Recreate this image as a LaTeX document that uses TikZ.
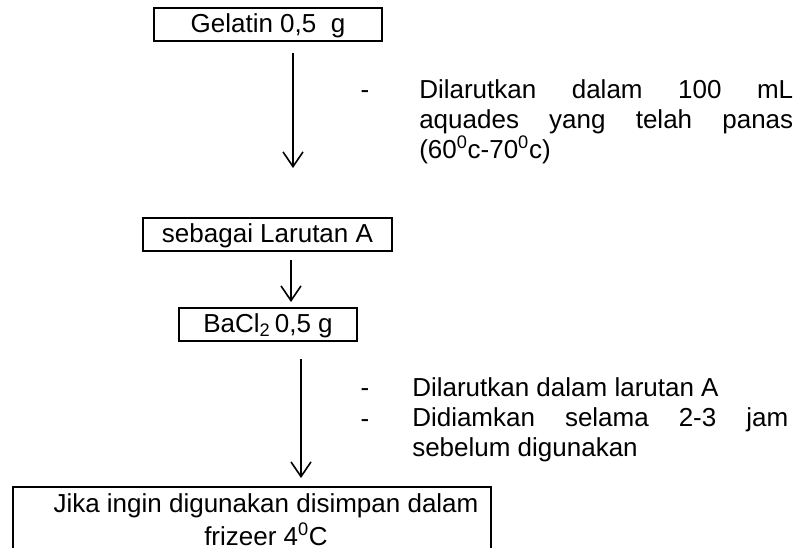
\documentclass[tikz,border=0pt]{standalone}
\usepackage{fontspec}
\setmainfont{Liberation Sans}
\usetikzlibrary{arrows.meta}
\setlength{\parindent}{0pt}
\hbadness=10000

\begin{document}
\begin{tikzpicture}[x=0.75pt,y=0.75pt,yscale=-1,xscale=1,
    kotak/.style={draw,line width=1.6pt,inner sep=0pt,minimum height=24.75pt,
      text height=15pt,text depth=3pt,font=\fontsize{19.5}{22.5}\selectfont},
    teks/.style={inner sep=0pt,font=\fontsize{19.5}{22.5}\selectfont},
    panah/.style={line width=1.2pt,-{Straight Barb[length=11pt,width=15pt]}}]
        \useasboundingbox (0,0) rectangle (804,547);
        \clip (0,0) rectangle (804,547);

        %Shape: Rectangle
        \node[kotak,minimum width=171pt] (gelatin) at (268,24.5) {Gelatin 0,5~~g};
        %Shape: Rectangle
        \node[kotak,minimum width=186.75pt] (larutanA) at (267.5,234.5) {sebagai Larutan A};
        %Shape: Rectangle
        \node[kotak,minimum width=133.5pt] (bacl) at (268,324.5) {BaCl\textsubscript{2}\,0,5 g};
        %Shape: Rectangle (open at the bottom of the page)
        \node[draw,line width=1.6pt,inner sep=0pt,minimum width=358.5pt,minimum height=75pt,anchor=north west] (simpan) at (12,486) {};

        %Straight Lines
        \coordinate (p1a) at (293,53);
        \coordinate (p1b) at (293,168);
        \draw[panah] (p1a) -- (p1b);
        %Straight Lines
        \coordinate (p2a) at (291,260);
        \coordinate (p2b) at (291,302);
        \draw[panah] (p2a) -- (p2b);
        %Straight Lines
        \coordinate (p3a) at (301,359);
        \coordinate (p3b) at (301,478);
        \draw[panah] (p3a) -- (p3b);

        % Text Node
        \node[teks,anchor=base] (strip1) at (365,98) {-};
        % Text Node
        \node[teks,anchor=north west,text width=280.5pt,align=justify] (ket1) at (419,77)
          {\strut Dilarutkan dalam 100 mL\linebreak aquades yang telah panas\linebreak (60\textsuperscript{0}c-70\textsuperscript{0}c)};
        % Text Node
        \node[teks,anchor=base] (strip2) at (365,396) {-};
        % Text Node
        \node[teks,anchor=base] (strip3) at (365,427) {-};
        % Text Node
        \node[teks,anchor=north west,text width=282pt,align=justify] (ket2) at (412,375)
          {\strut Dilarutkan dalam larutan A\\Didiamkan selama 2-3 jam\linebreak sebelum digunakan};
        % Text Node
        \node[teks,align=center,anchor=north] (simpantxt) at (266,491)
          {\strut Jika ingin digunakan disimpan dalam\\frizeer 4\textsuperscript{0}C};
\end{tikzpicture}
\end{document}
